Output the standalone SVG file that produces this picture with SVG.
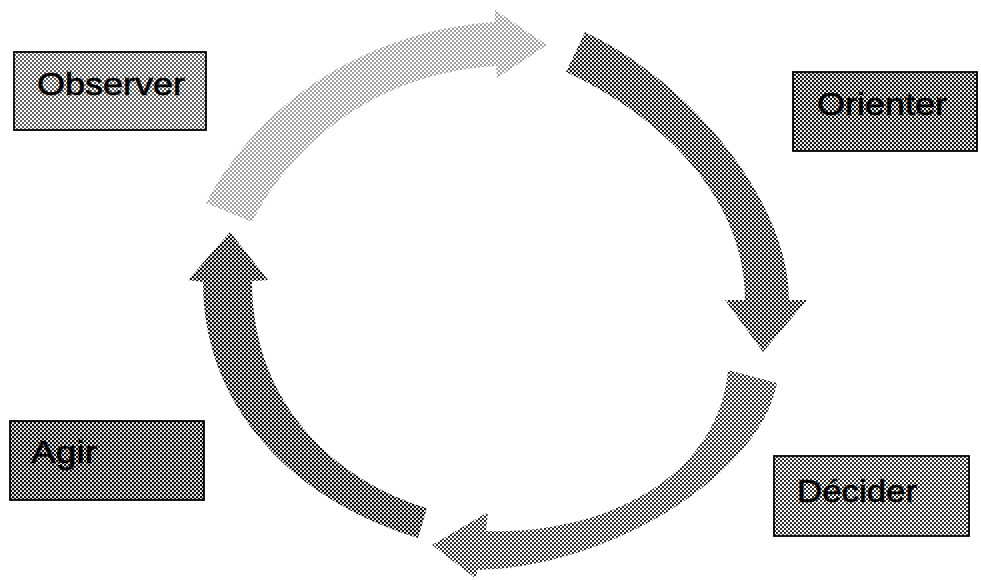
<svg xmlns="http://www.w3.org/2000/svg" width="981" height="580" viewBox="0 0 981 580">
<defs>
<pattern id="pLight" width="4" height="4" patternUnits="userSpaceOnUse"><rect width="4" height="4" fill="#fff"/><circle cx="1" cy="1" r="0.8" fill="#222"/><circle cx="3" cy="3" r="0.8" fill="#222"/></pattern>
<pattern id="pObs" width="4" height="4" patternUnits="userSpaceOnUse"><rect width="4" height="4" fill="#fff"/><circle cx="1" cy="1" r="0.9" fill="#111"/><circle cx="3" cy="3" r="0.9" fill="#111"/></pattern>
<pattern id="pMed" width="4" height="4" patternUnits="userSpaceOnUse"><rect width="4" height="4" fill="#fff"/><circle cx="1" cy="1" r="1.1" fill="#111"/><circle cx="3" cy="3" r="1.1" fill="#111"/></pattern>
<pattern id="pDark" width="4" height="4" patternUnits="userSpaceOnUse"><rect width="4" height="4" fill="#fff"/><circle cx="1" cy="1" r="1.22" fill="#111"/><circle cx="3" cy="3" r="1.22" fill="#111"/></pattern>
<pattern id="pDarker" width="4" height="4" patternUnits="userSpaceOnUse"><rect width="4" height="4" fill="#fff"/><circle cx="1" cy="1" r="1.32" fill="#111"/><circle cx="3" cy="3" r="1.32" fill="#111"/></pattern>
</defs>
<style>
.box{stroke:#000;stroke-width:1.8}
.lbl{font-family:"Liberation Sans",Arial,sans-serif;font-size:32px;fill:#000;stroke:#000;stroke-width:0.6}
.arr{stroke:none}
</style>
<rect width="981" height="580" fill="#fff"/>
<g id="connectors">
<path id="arrow-observer-orienter" class="arr" fill="url(#pLight)" d="M206,203 C260,100 370,30 495,22 L495,10 L547,45 L497,78 L496,66 C390,72 300,130 252,222 Z"/>
<path id="arrow-orienter-decider" class="arr" fill="url(#pDark)" d="M585,32 C689,81 789,200 789,300 L807,300 L763,352 L725,300 L745,300 C745,200 666,119 566,72 Z"/>
<path id="arrow-decider-agir" class="arr" fill="url(#pMed)" d="M777,383 C760,475 610,567 478,570 L475,578 L432,545 L488,512 L486,531 C600,535 718,480 728,370 Z"/>
<path id="arrow-agir-observer" class="arr" fill="url(#pDarker)" d="M418,538 C289,499 203,404 203,282 L188,280 L230,232 L268,280 L252,281 C252,400 331,479 427,508 Z"/>
</g>
<g id="node-observer">
<rect class="box" x="14" y="52" width="192" height="78" fill="url(#pObs)"/>
<text class="lbl" x="37" y="95" textLength="148" lengthAdjust="spacingAndGlyphs">Observer</text>
</g>
<g id="node-orienter">
<rect class="box" x="793" y="72" width="184" height="79" fill="url(#pDark)"/>
<text class="lbl" x="817" y="115" textLength="130" lengthAdjust="spacingAndGlyphs">Orienter</text>
</g>
<g id="node-decider">
<rect class="box" x="774" y="456" width="195" height="80" fill="url(#pMed)"/>
<text class="lbl" x="797" y="502" textLength="120" lengthAdjust="spacingAndGlyphs">Décider</text>
</g>
<g id="node-agir">
<rect class="box" x="10" y="421" width="194" height="79" fill="url(#pDarker)"/>
<text class="lbl" x="31" y="463" textLength="66" lengthAdjust="spacingAndGlyphs">Agir</text>
</g>
</svg>
